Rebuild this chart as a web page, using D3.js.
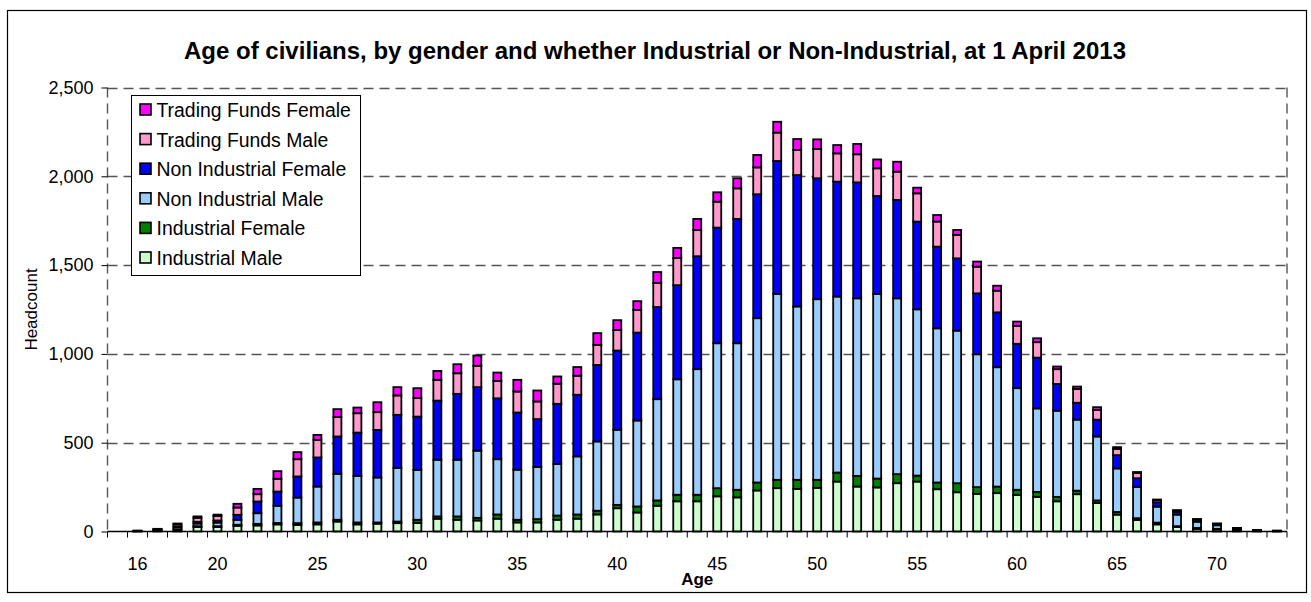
<!DOCTYPE html>
<html>
<head>
<meta charset="utf-8">
<script src="https://d3js.org/d3.v7.min.js"></script>
<style>
  body { margin: 0; background: #fff; }
  text { font-family: "Liberation Sans", Arial, sans-serif; fill: #000; }
</style>
</head>
<body>
<div id="chart"></div>
<script>
// ages 16..73, one value per age
var ages = [16,17,18,19,20,21,22,23,24,25,26,27,28,29,30,31,32,33,34,35,36,37,38,39,40,41,42,43,44,
            45,46,47,48,49,50,51,52,53,54,55,56,57,58,59,60,61,62,63,64,65,66,67,68,69,70,71,72,73];

var industrialMale = [1,4,10,25,25,32,34,40,37,40,56,40,44,47,48,72,66,62,72,51,51,66,72,96,131,107,145,170,170,
                      198,192,231,244,240,246,281,253,248,272,281,238,221,212,216,205,195,170,210,160,95,65,40,25,15,12,5,2,1];
var industrialFemale = [0,1,2,5,5,6,9,8,10,11,10,11,7,9,18,13,19,15,24,15,19,24,24,21,19,34,30,37,37,
                        46,43,45,47,51,45,51,60,50,51,34,38,51,38,37,30,28,25,20,15,15,10,10,5,5,3,1,0,0];
var nonIndMale = [2,4,12,15,20,28,60,97,144,202,259,262,253,301,281,319,319,378,311,282,293,290,327,390,423,484,570,650,707,
                  816,825,925,1047,976,1017,991,1000,1040,990,936,868,859,748,672,572,470,485,400,360,245,175,90,65,35,20,8,4,3];
var nonIndFemale = [1,2,6,10,12,28,66,80,119,164,210,244,268,300,300,333,371,358,343,322,270,339,347,431,446,495,519,530,636,
                    651,700,698,748,740,681,647,653,551,554,494,460,407,343,309,250,286,151,95,95,75,50,25,15,8,6,3,1,1];
var tradingMale = [1,3,12,22,25,41,41,72,97,99,109,109,100,109,104,117,116,120,98,118,99,113,107,113,115,128,135,153,147,
                   146,172,151,160,141,165,159,158,156,159,159,141,132,150,122,101,87,83,78,55,35,30,12,8,6,3,2,1,0];
var tradingFemale = [0,1,3,8,8,21,30,43,40,28,45,32,56,47,56,50,51,58,47,66,62,41,49,66,56,49,62,57,63,
                     53,57,70,61,62,54,47,58,50,56,32,37,28,29,28,24,22,15,13,15,10,5,3,2,1,1,1,0,0];

var seriesNames = ["Industrial Male", "Industrial Female", "Non Industrial Male",
                   "Non Industrial Female", "Trading Funds Male", "Trading Funds Female"];
var seriesColors = ["#ccffcc", "#008000", "#99ccff", "#0000ff", "#ff99cc", "#ff00ff"];
var seriesValues = [industrialMale, industrialFemale, nonIndMale, nonIndFemale, tradingMale, tradingFemale];

var yTicks = [0, 500, 1000, 1500, 2000, 2500];
var xLabels = [16, 20, 25, 30, 35, 40, 45, 50, 55, 60, 65, 70];

var W = 1311, H = 602;
var margin = {left: 107.5, right: 24, top: 87.5, bottom: 70.5};

var svg = d3.select("#chart").append("svg")
    .attr("width", W)
    .attr("height", H);

// outer chart border
svg.append("rect")
    .attr("x", 7.5).attr("y", 10.5)
    .attr("width", 1299).attr("height", 582)
    .attr("fill", "#fff").attr("stroke", "#000").attr("stroke-width", 1.2);

svg.append("text")
    .attr("x", 655).attr("y", 59)
    .attr("text-anchor", "middle")
    .style("font-size", "24px").style("font-weight", "bold")
    .text("Age of civilians, by gender and whether Industrial or Non-Industrial, at 1 April 2013");

// rows for the stack
var rows = ages.map(function(a, i) {
  var r = {age: a};
  seriesNames.forEach(function(n, j) { r[n] = seriesValues[j][i]; });
  return r;
});

// one empty slot before age 16, as in the original
var x = d3.scaleBand()
    .domain(["pad"].concat(ages))
    .range([margin.left, W - margin.right]);

var y = d3.scaleLinear()
    .domain([0, 2500])
    .range([H - margin.bottom, margin.top]);

var g = svg.append("g");

// gridlines
g.selectAll("line.grid")
    .data(yTicks.filter(function(d) { return d > 0; }))
  .enter().append("line")
    .attr("class", "grid")
    .attr("x1", x.range()[0]).attr("x2", x.range()[1])
    .attr("y1", function(d) { return Math.round(y(d)) + 0.5; })
    .attr("y2", function(d) { return Math.round(y(d)) + 0.5; })
    .attr("stroke", "#555").attr("stroke-width", 1.4)
    .attr("stroke-dasharray", "10,6");

// dashed plot area sides
[x.range()[0], x.range()[1]].forEach(function(px) {
  g.append("line")
      .attr("x1", px).attr("x2", px)
      .attr("y1", y(2500)).attr("y2", y(0))
      .attr("stroke", "#555").attr("stroke-width", 1.4)
      .attr("stroke-dasharray", "10,6");
});

// bars
var stack = d3.stack().keys(seriesNames);
var layers = stack(rows);
var barW = 8;

g.selectAll("g.layer")
    .data(layers)
  .enter().append("g")
    .attr("class", "layer")
    .attr("fill", function(d, i) { return seriesColors[i]; })
  .selectAll("rect")
    .data(function(d) { return d; })
  .enter().append("rect")
    .attr("x", function(d) { return x(d.data.age) + x.bandwidth() / 2 - barW / 2; })
    .attr("width", barW)
    .attr("y", function(d) { return y(d[1]); })
    .attr("height", function(d) { return y(d[0]) - y(d[1]); })
    .attr("stroke", "#000")
    .attr("stroke-width", 1.8);

// y axis
var yAxis = d3.axisLeft(y)
    .tickValues(yTicks)
    .tickSize(6)
    .tickFormat(d3.format(","));

var ya = svg.append("g")
    .attr("transform", "translate(" + x.range()[0] + ",0)")
    .call(yAxis);
ya.select(".domain").remove();
ya.selectAll("line").attr("stroke", "#000");
ya.selectAll("text")
    .attr("x", -14)
    .style("font-size", "18px")
    .style("font-family", "'Liberation Sans', Arial, sans-serif");

// x axis: ticks on band edges, labels on selected ages
var xa = svg.append("g");
xa.append("line")
    .attr("x1", x.range()[0]).attr("x2", x.range()[1])
    .attr("y1", y(0)).attr("y2", y(0))
    .attr("stroke", "#000").attr("stroke-width", 1.3);

var edges = x.domain().map(function(d) { return x(d); }).concat([x.range()[1]]);
xa.selectAll("line.tick")
    .data(edges)
  .enter().append("line")
    .attr("class", "tick")
    .attr("x1", function(d) { return d; }).attr("x2", function(d) { return d; })
    .attr("y1", y(0)).attr("y2", y(0) + 6)
    .attr("stroke", "#000").attr("stroke-width", 1);

xa.selectAll("text")
    .data(xLabels)
  .enter().append("text")
    .attr("x", function(d) { return x(d) + x.bandwidth() / 2; })
    .attr("y", 570)
    .attr("text-anchor", "middle")
    .style("font-size", "18px")
    .text(function(d) { return d; });

// axis titles
svg.append("text")
    .attr("x", (x.range()[0] + x.range()[1]) / 2)
    .attr("y", 585)
    .attr("text-anchor", "middle")
    .style("font-size", "17px").style("font-weight", "bold")
    .text("Age");

svg.append("text")
    .attr("transform", "translate(37," + ((y(0) + y(2500)) / 2) + ") rotate(-90)")
    .attr("text-anchor", "middle")
    .style("font-size", "17px")
    .text("Headcount");

// legend
var leg = svg.append("g").attr("transform", "translate(131.5,95.5)");
leg.append("rect")
    .attr("width", 229).attr("height", 180)
    .attr("fill", "#fff").attr("stroke", "#000").attr("stroke-width", 1);

var legOrder = seriesNames.map(function(n, i) { return i; }).reverse();
var li = leg.selectAll("g.item")
    .data(legOrder)
  .enter().append("g")
    .attr("class", "item")
    .attr("transform", function(d, k) { return "translate(0," + (15 + k * 29.6) + ")"; });

li.append("rect")
    .attr("x", 8.5).attr("y", -6.5)
    .attr("width", 11).attr("height", 11)
    .attr("fill", function(d) { return seriesColors[d]; })
    .attr("stroke", "#000").attr("stroke-width", 1.6);

li.append("text")
    .attr("x", 25).attr("y", 6.5)
    .style("font-size", "19.4px")
    .text(function(d) { return seriesNames[d]; });
</script>
</body>
</html>
